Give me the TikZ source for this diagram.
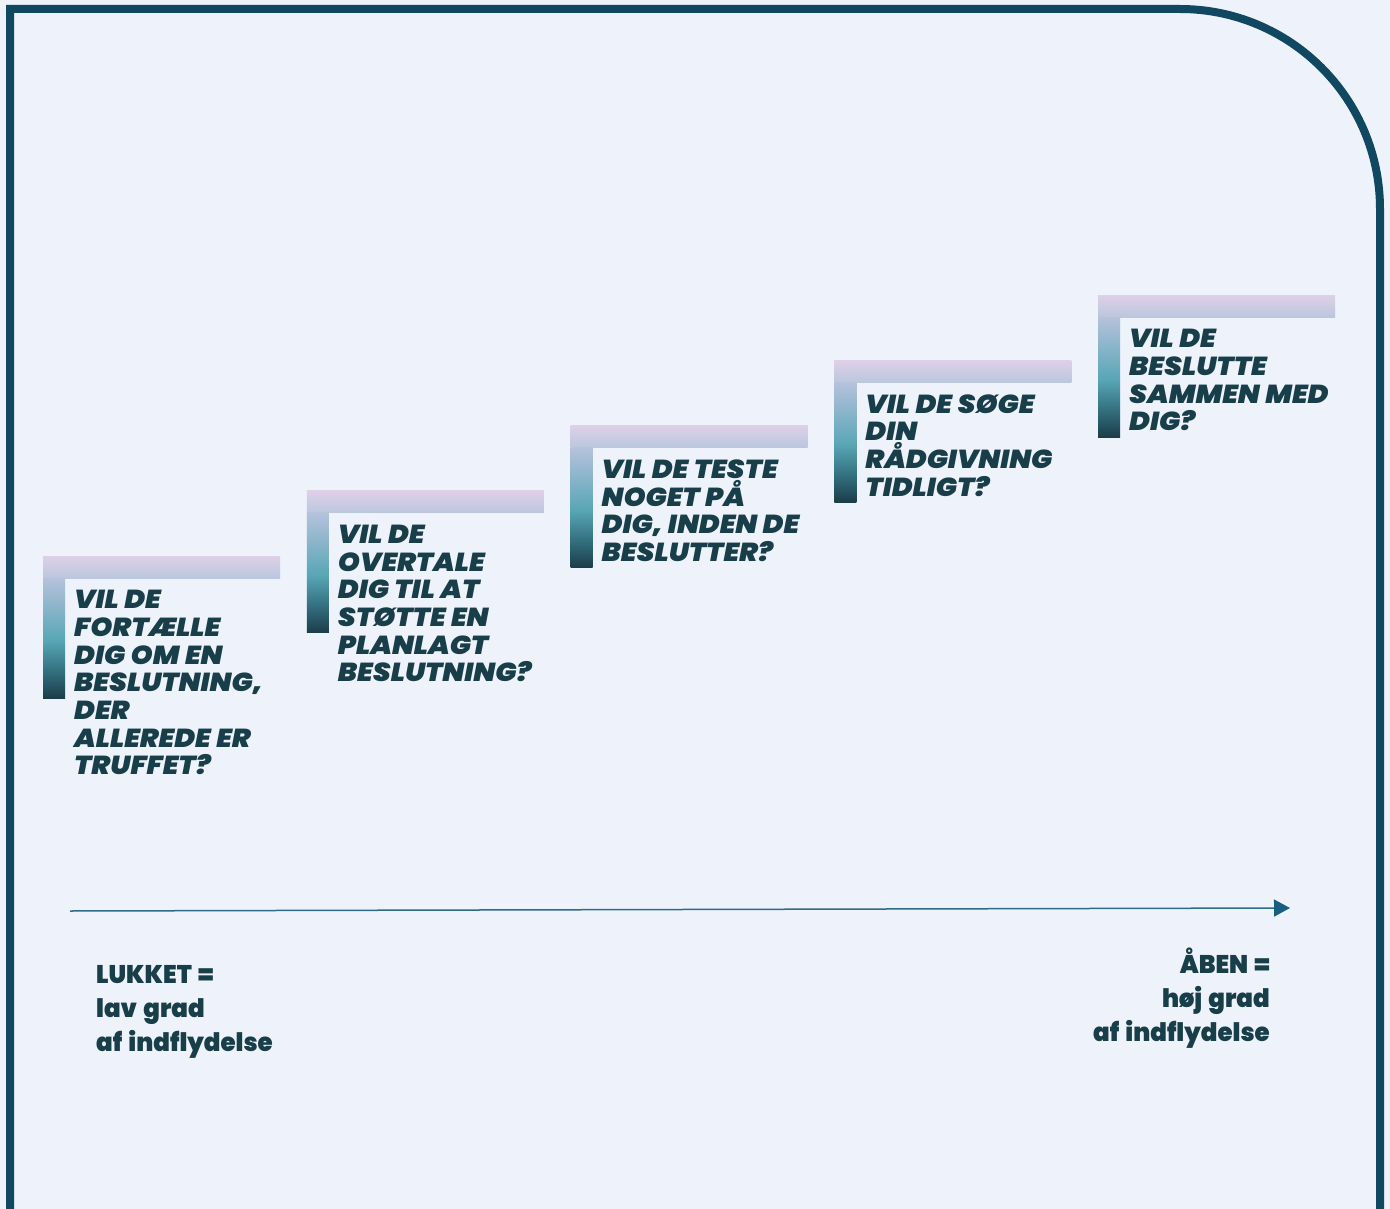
\documentclass[tikz,border=0pt]{standalone}
\usepackage{fontspec}
\usetikzlibrary{arrows.meta}
\newfontfamily\stepfont{Poppins Black Italic}[FakeStretch=1.08, WordSpace=1.15]
\newfontfamily\endfont{Poppins Black}[FakeStretch=0.96, WordSpace=1.5]
\definecolor{bgcol}{HTML}{EEF2FB}
\definecolor{framecol}{HTML}{0F4860}
\definecolor{txtcol}{HTML}{183E4A}
\definecolor{linecol}{HTML}{2B6B8B}
\definecolor{headcol}{HTML}{175E80}
\definecolor{htop}{HTML}{DED0E8}
\definecolor{hbot}{HTML}{BAC7DE}
\definecolor{vlight}{HTML}{B6C2DC}
\definecolor{vteal}{HTML}{58A6B6}
\definecolor{vmid}{HTML}{357382}
\definecolor{vdark}{HTML}{1B3D49}
\pgfdeclareverticalshading{hbarshade}{100bp}{color(0bp)=(hbot); color(25bp)=(hbot); color(75bp)=(htop); color(100bp)=(htop)}
\pgfdeclareverticalshading{vbarshade}{100bp}{color(0bp)=(vdark); color(25bp)=(vdark); color(37bp)=(vmid); color(49bp)=(vteal); color(75bp)=(vlight); color(100bp)=(vlight)}
\tikzset{
  steptext/.style={anchor=north west, inner sep=0pt, align=left, text=txtcol,
    font=\stepfont\fontsize{26}{27.7}\selectfont},
  endtext/.style={inner sep=0pt, text=txtcol,
    font=\endfont\fontsize{25.5}{34}\selectfont},
  hbar/.style={shading=hbarshade},
  vbar/.style={shading=vbarshade},
}
\begin{document}
\begin{tikzpicture}[x=1pt,y=-1pt]
\fill[bgcol] (0,0) rectangle (1390,1209);
\useasboundingbox (0,0) rectangle (1390,1209);
% frame
\draw[framecol, line width=8pt] (10,1215) -- (10,9) -- (1180,9)
  arc[start angle=90, end angle=0, radius=200pt] -- (1380,1215);
% steps
\foreach \i/\txt in {1/{VIL DE\\FORTÆLLE\\DIG OM EN\\BESLUTNING,\\DER\\ALLEREDE ER\\TRUFFET?},
                     2/{VIL DE\\OVERTALE\\DIG TIL AT\\STØTTE EN\\PLANLAGT\\BESLUTNING?},
                     3/{VIL DE TESTE\\NOGET PÅ\\DIG, INDEN DE\\BESLUTTER?},
                     4/{VIL DE SØGE\\DIN\\RÅDGIVNING\\TIDLIGT?},
                     5/{VIL DE\\BESLUTTE\\SAMMEN MED\\DIG?}}{
  \pgfmathsetmacro{\sx}{43+263.75*(\i-1)}
  \pgfmathsetmacro{\sy}{556-65.25*(\i-1)}
  \shade[hbar] (\sx,\sy) rectangle ({\sx+237},{\sy+22});
  \shade[vbar] (\sx,{\sy+22}) rectangle ({\sx+22},{\sy+142});
  \node[steptext] (step\i) at ({\sx+31},{\sy+34}) {\txt};
}
% axis
\coordinate (axstart) at (70,911);
\coordinate (axend) at (1290,908);
\draw[linecol, line width=1.5pt, -{Triangle[length=16pt,width=17pt,color=headcol]}] (axstart) -- (axend);
% end labels
\node[endtext, anchor=base west, align=left] (closed) at (96,1051) {LUKKET =\\lav grad\\af indflydelse};
\node[endtext, anchor=base east, align=right] (open) at (1270,1041) {ÅBEN =\\høj grad\\af indflydelse};
\end{tikzpicture}
\end{document}
